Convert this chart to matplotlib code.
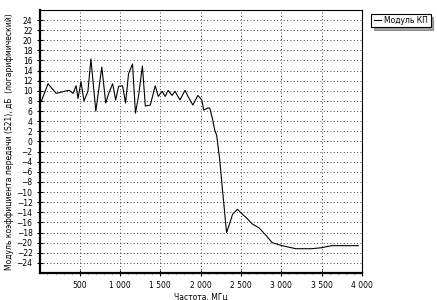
import matplotlib.pyplot as plt
from matplotlib.ticker import FuncFormatter, MultipleLocator

# frequency, MHz, and |S21|, dB
freq_mhz = [25, 107, 209, 307, 369, 418, 455, 479, 516, 553, 602, 639, 700, 774,
            823, 860, 909, 946, 983, 1032, 1069, 1106, 1155, 1192, 1229, 1278,
            1314, 1376, 1437, 1474, 1523, 1560, 1597, 1646, 1683, 1744, 1806,
            1843, 1904, 1966, 2015, 2039, 2088, 2113, 2150, 2174, 2199, 2236,
            2273, 2322, 2359, 2396, 2457, 2506, 2568, 2641, 2727, 2813, 2887,
            3010, 3182, 3378, 3501, 3624, 3747, 3956]
s21_db = [8.0, 11.4, 9.5, 9.9, 10.1, 9.5, 11.0, 8.5, 11.8, 8.0, 9.9, 16.3, 6.0,
          14.7, 7.6, 9.5, 11.4, 8.2, 10.9, 11.0, 7.6, 13.4, 15.3, 5.6, 8.9, 14.9,
          7.0, 7.2, 11.0, 8.9, 9.9, 8.9, 10.1, 9.1, 9.9, 8.2, 10.1, 8.9, 7.2, 9.1,
          8.2, 6.2, 6.6, 6.6, 4.3, 2.3, 1.2, -3.5, -9.9, -18.0, -16.3, -14.4,
          -13.4, -14.2, -15.1, -16.3, -17.1, -18.6, -20.0, -20.6, -21.2, -21.2,
          -21.0, -20.6, -20.6, -20.6]

x_ticks = [500, 1000, 1500, 2000, 2500, 3000, 3500, 4000]
y_ticks = list(range(-24, 25, 2))

fig = plt.figure(figsize=(4.37, 3.0), dpi=100)
ax = fig.add_axes([0.092, 0.09, 0.736, 0.877])

ax.plot(freq_mhz, s21_db, color="black", lw=0.8, label="Модуль КП")

ax.set_xlim(10, 4000)
ax.set_ylim(-26, 26)
ax.set_xticks(x_ticks)
ax.set_yticks(y_ticks)
ax.xaxis.set_minor_locator(MultipleLocator(100))
ax.xaxis.set_major_formatter(FuncFormatter(lambda v, _: f"{int(v):,}".replace(",", " ")))
ax.yaxis.set_major_formatter(FuncFormatter(lambda v, _: f"{int(v)}".replace("-", "−")))
ax.grid(True, which="major", color="black", ls=(0, (1, 3)), lw=0.6)

ax.tick_params(axis="both", labelsize=5.5, direction="inout", length=4, width=0.8)
ax.tick_params(axis="x", which="minor", direction="inout", length=2, width=0.6)
for side in ("left", "bottom"):
    ax.spines[side].set_linewidth(1.6)
for side in ("top", "right"):
    ax.spines[side].set_linewidth(0.8)

ax.set_xlabel("Частота, МГц", fontsize=5.5, labelpad=2)
ax.set_ylabel("Модуль коэффициента передачи (S21), дБ  (логарифмический)",
              fontsize=5.5, labelpad=2)

leg = ax.legend(loc="upper left", bbox_to_anchor=(1.03, 0.985), fontsize=5.5,
                frameon=True, fancybox=False, shadow=True, handlelength=1.0,
                borderpad=0.3, handletextpad=0.4, borderaxespad=0)
leg.get_frame().set_edgecolor("black")
leg.get_frame().set_linewidth(0.8)

fig.savefig("out.png", dpi=100)
